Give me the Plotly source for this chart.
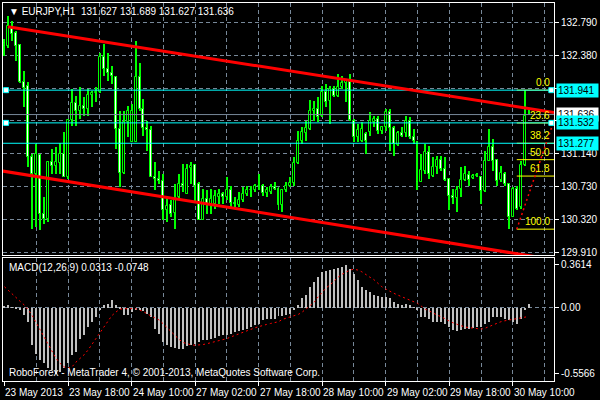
import plotly.graph_objects as go

# ---------------- data ----------------
bars = list(range(133))

opens = [132.536, 132.495, 132.731, 132.661, 132.503, 132.046, 131.996, 131.111, 130.895, 131.136,
         130.388, 130.334, 131.048, 130.990, 131.028, 131.144, 130.853, 131.568, 131.776, 131.684,
         131.747, 131.705, 131.884, 131.900, 131.913, 132.357, 132.204, 132.150, 132.112, 131.456,
         130.903, 131.539, 131.289, 131.289, 132.108, 131.705, 131.468, 131.443, 130.861, 130.832,
         130.803, 130.446, 130.500, 130.408, 130.604, 130.770, 130.645, 130.969, 131.007, 130.770,
         130.321, 130.583, 130.500, 130.521, 130.604, 130.637, 130.604, 130.695, 130.529, 130.500,
         130.570, 130.645, 130.699, 130.687, 130.749, 130.749, 130.654, 130.666, 130.728, 130.708,
         130.500, 130.687, 130.741, 130.778, 131.028, 131.302, 131.402, 131.456, 131.684, 131.705,
         131.622, 131.921, 131.809, 131.954, 131.871, 131.975, 132.025, 132.037, 131.560, 131.360,
         131.310, 131.393, 131.414, 131.539, 131.580, 131.435, 131.477, 131.672, 131.468, 131.260,
         131.402, 131.402, 131.560, 131.352, 131.289, 130.791, 130.936, 131.165, 130.874, 130.978,
         131.069, 130.957, 130.832, 130.612, 130.595, 130.708, 130.820, 130.886, 130.845, 130.870,
         130.861, 130.678, 131.061, 131.235, 131.069, 130.820, 130.895, 130.762, 130.354, 130.708,
         130.479, 131.011, 131.627]
highs = [132.578, 132.869, 132.806, 132.682, 132.515, 132.183, 132.037, 131.144, 131.269, 131.144,
         130.604, 131.061, 131.206, 131.235, 131.277, 131.414, 131.580, 131.954, 131.871, 131.975,
         131.850, 131.954, 131.934, 131.975, 132.412, 132.515, 132.412, 132.245, 132.121, 131.684,
         131.684, 131.747, 131.767, 132.557, 132.287, 131.830, 131.560, 131.497, 131.040, 130.936,
         130.895, 130.604, 130.562, 130.770, 130.895, 131.019, 131.019, 131.040, 131.019, 130.791,
         130.708, 130.687, 130.708, 130.687, 130.708, 130.666, 130.861, 130.749, 130.604, 130.666,
         130.728, 130.749, 130.749, 130.770, 130.895, 130.762, 130.728, 130.770, 130.791, 130.728,
         130.708, 130.791, 130.861, 131.102, 131.435, 131.477, 131.560, 131.817, 131.809, 131.850,
         131.996, 132.017, 131.996, 131.996, 132.141, 132.121, 132.079, 132.141, 131.580, 131.518,
         131.539, 131.414, 131.663, 131.622, 131.622, 131.497, 131.705, 131.705, 131.497, 131.435,
         131.477, 131.622, 131.601, 131.456, 131.310, 131.144, 131.269, 131.248, 131.102, 131.123,
         131.123, 131.102, 130.840, 130.708, 130.749, 130.978, 130.999, 130.936, 130.895, 130.903,
         130.874, 131.186, 131.456, 131.331, 131.082, 130.999, 130.915, 130.770, 130.728, 130.749,
         131.061, 131.941, 131.689]
lows = [132.370, 132.474, 132.557, 132.308, 132.030, 131.726, 130.978, 130.209, 130.230, 130.188,
        130.271, 130.292, 130.895, 130.895, 130.895, 130.853, 130.832, 131.497, 131.497, 131.580,
        131.622, 131.622, 131.726, 131.788, 131.905, 132.121, 132.058, 132.017, 131.206, 130.728,
        130.895, 131.352, 131.289, 131.289, 131.684, 131.373, 131.186, 130.853, 130.687, 130.770,
        130.313, 130.292, 130.354, 130.209, 130.583, 130.666, 130.645, 130.770, 130.541, 130.313,
        130.313, 130.396, 130.396, 130.458, 130.521, 130.521, 130.562, 130.479, 130.479, 130.479,
        130.541, 130.624, 130.604, 130.666, 130.687, 130.624, 130.604, 130.645, 130.687, 130.438,
        130.417, 130.666, 130.730, 130.749, 131.019, 131.269, 131.310, 131.443, 131.560, 131.539,
        131.601, 131.726, 131.518, 131.859, 131.859, 131.954, 131.788, 131.560, 131.289, 131.289,
        131.289, 131.144, 131.373, 131.477, 131.393, 131.393, 131.435, 131.186, 131.123, 131.248,
        131.352, 131.352, 131.331, 131.269, 130.687, 130.791, 130.895, 130.832, 130.861, 130.895,
        130.936, 130.811, 130.438, 130.521, 130.417, 130.604, 130.811, 130.749, 130.832, 130.853,
        130.521, 130.666, 131.061, 130.936, 130.749, 130.791, 130.749, 130.203, 130.350, 130.438,
        130.458, 130.999, 131.627]
closes = [132.495, 132.744, 132.648, 132.495, 132.037, 131.967, 131.102, 130.895, 131.144, 130.388,
          130.334, 131.048, 130.990, 131.048, 131.144, 130.853, 131.568, 131.776, 131.684, 131.747,
          131.705, 131.884, 131.900, 131.913, 132.357, 132.204, 132.150, 132.121, 131.456, 130.903,
          131.539, 131.684, 131.684, 132.108, 131.705, 131.468, 131.443, 130.861, 130.832, 130.803,
          130.446, 130.487, 130.396, 130.583, 130.770, 130.749, 130.957, 130.999, 130.749, 130.321,
          130.583, 130.521, 130.583, 130.616, 130.637, 130.604, 130.695, 130.529, 130.512, 130.570,
          130.645, 130.699, 130.687, 130.749, 130.741, 130.654, 130.687, 130.728, 130.708, 130.500,
          130.695, 130.749, 130.782, 131.028, 131.310, 131.414, 131.468, 131.684, 131.705, 131.609,
          131.913, 131.788, 131.954, 131.871, 131.983, 132.025, 132.058, 131.568, 131.360, 131.443,
          131.456, 131.302, 131.551, 131.580, 131.435, 131.477, 131.672, 131.468, 131.269, 131.402,
          131.373, 131.560, 131.352, 131.310, 130.791, 130.944, 131.165, 130.895, 130.986, 131.069,
          130.957, 130.820, 130.612, 130.595, 130.699, 130.820, 130.895, 130.820, 130.874, 130.886,
          130.678, 131.061, 131.235, 131.061, 130.803, 130.903, 130.762, 130.354, 130.708, 130.458,
          131.011, 131.622, 131.636]

macd_main = [0.015, 0.02, 0.005, -0.01, -0.022, -0.064, -0.12, -0.316, -0.386, -0.442,
             -0.47, -0.512, -0.526, -0.5566, -0.54, -0.512, -0.47, -0.40, -0.372, -0.26,
             -0.232, -0.162, -0.12, -0.078, -0.022, 0.02, 0.034, 0.062, 0.02, -0.008,
             -0.064, -0.064, -0.036, -0.022, -0.022, -0.03, -0.05, -0.078, -0.176, -0.218,
             -0.288, -0.316, -0.33, -0.339, -0.344, -0.35, -0.322, -0.316, -0.302, -0.288,
             -0.274, -0.274, -0.26, -0.255, -0.238, -0.232, -0.227, -0.218, -0.204, -0.199,
             -0.19, -0.176, -0.162, -0.148, -0.134, -0.106, -0.098, -0.092, -0.092, -0.073,
             -0.07, -0.064, -0.05, -0.022, 0.025, 0.081, 0.104, 0.174, 0.216, 0.258,
             0.30, 0.305, 0.314, 0.322, 0.333, 0.342, 0.3614, 0.328, 0.286, 0.23,
             0.174, 0.146, 0.132, 0.104, 0.095, 0.09, 0.09, 0.085, 0.048, 0.034,
             0.025, 0.034, 0.02, 0.003, -0.022, -0.078, -0.078, -0.092, -0.12, -0.12,
             -0.12, -0.134, -0.162, -0.19, -0.199, -0.19, -0.182, -0.176, -0.171, -0.162,
             -0.162, -0.134, -0.12, -0.078, -0.078, -0.078, -0.092, -0.106, -0.12, -0.134,
             -0.092, -0.022, 0.0313]
macd_signal = [0.174, 0.145, 0.115, 0.08, 0.05, 0.02, -0.02, -0.07, -0.13, -0.19,
               -0.26, -0.32, -0.37, -0.43, -0.47, -0.50, -0.512, -0.50, -0.46, -0.43,
               -0.40, -0.36, -0.31, -0.26, -0.21, -0.16, -0.11, -0.07, -0.04, -0.015,
               -0.01, -0.008, -0.008, -0.01, -0.022, -0.035, -0.055, -0.075, -0.09, -0.106,
               -0.14, -0.175, -0.21, -0.24, -0.27, -0.295, -0.305, -0.315, -0.318, -0.316,
               -0.312, -0.305, -0.296, -0.29, -0.283, -0.27, -0.262, -0.248, -0.235, -0.22,
               -0.205, -0.195, -0.183, -0.172, -0.162, -0.15, -0.143, -0.135, -0.128, -0.12,
               -0.10, -0.09, -0.08, -0.072, -0.058, -0.038, -0.012, 0.015, 0.045, 0.09,
               0.13, 0.165, 0.19, 0.225, 0.255, 0.28, 0.30, 0.315, 0.322, 0.315,
               0.30, 0.275, 0.255, 0.235, 0.205, 0.175, 0.155, 0.135, 0.12, 0.105,
               0.09, 0.078, 0.066, 0.05, 0.035, 0.01, -0.015, -0.03, -0.05, -0.065,
               -0.078, -0.1, -0.115, -0.13, -0.145, -0.154, -0.165, -0.168, -0.171, -0.175,
               -0.182, -0.175, -0.16, -0.145, -0.134, -0.12, -0.112, -0.106, -0.103, -0.10,
               -0.088, -0.082, -0.0748]

date_tick_bars = [0, 16, 32, 48, 64, 80, 96, 112, 128]
date_tick_labels = ["23 May 2013", "23 May 18:00", "24 May 10:00", "27 May 02:00", "27 May 18:00",
                    "28 May 10:00", "29 May 02:00", "29 May 18:00", "30 May 10:00"]
grid_bars = list(range(8, 139, 8))

price_grid = [132.790, 132.379, 131.967, 131.556, 131.144, 130.733, 130.321, 129.910]
price_grid_text = ["132.790", "132.380", "", "", "131.140", "130.730", "130.320", "129.910"]

macd_ticks = [0.3614, 0.0, -0.5566]
macd_tick_text = ["0.3614", "0.00", "-0.5566"]

# drawn objects
h_lines = [131.941, 131.532, 131.277]          # cyan horizontal lines
h_line_handles = [131.941, 131.532]            # selected lines (with handles)
bid_price = 131.636
upper_channel = ([0.85, 138.4], [132.735, 131.662])
lower_channel = ([-0.4, 138.4], [130.929, 129.821])
fib_high, fib_low = 131.941, 130.203
fib_start_bar, fib_end_bar = 129, 141
fib_levels = [0.0, 23.6, 38.2, 50.0, 61.8, 100.0]

title_text = "\u25BC EURJPY,H1  131.627 131.689 131.627 131.636"
macd_title = "MACD(12,26,9) 0.0313 -0.0748"
watermark = "RoboForex - MetaTrader 4, \u00A9 2001-2013, MetaQuotes Software Corp."

# ---------------- styling ----------------
FONT = "Liberation Sans"
FS = 10
GRID = "#778899"
LIME = "#00FF00"
CYAN = "#00FFFF"
YELLOW = "#FFFF00"
XR = [-0.375, 138.375]

fig = go.Figure()

# candles: wick (1 px) + body (bull = black, bear = white, lime outline)
fig.add_trace(go.Bar(x=bars, base=lows, y=[h - l for h, l in zip(highs, lows)], width=0.25,
                     marker=dict(color=LIME, line=dict(width=0)), hoverinfo="skip",
                     showlegend=False, xaxis="x", yaxis="y"))
body_base = [min(o, c) for o, c in zip(opens, closes)]
body_len = [abs(c - o) for o, c in zip(opens, closes)]
body_fill = ["#000000" if c >= o else "#FFFFFF" for o, c in zip(opens, closes)]
fig.add_trace(go.Bar(x=bars, base=body_base, y=body_len, width=0.5,
                     marker=dict(color=body_fill, line=dict(color=LIME, width=1)),
                     hoverinfo="skip", showlegend=False, xaxis="x", yaxis="y"))

# fibonacci level lines
for lv in fib_levels:
    p = fib_high - lv / 100.0 * (fib_high - fib_low)
    fig.add_trace(go.Scatter(x=[fib_start_bar, XR[1]], y=[p, p], mode="lines",
                             line=dict(color=YELLOW, width=1), hoverinfo="skip",
                             showlegend=False, xaxis="x", yaxis="y"))

# cyan horizontal lines
for p in h_lines:
    fig.add_trace(go.Scatter(x=XR, y=[p, p], mode="lines", line=dict(color=CYAN, width=1),
                             hoverinfo="skip", showlegend=False, xaxis="x", yaxis="y"))
# bid line
fig.add_trace(go.Scatter(x=XR, y=[bid_price, bid_price], mode="lines",
                         line=dict(color=GRID, width=1), hoverinfo="skip",
                         showlegend=False, xaxis="x", yaxis="y"))

# channel lines
for xs, ys in (upper_channel, lower_channel):
    fig.add_trace(go.Scatter(x=xs, y=ys, mode="lines", line=dict(color="#FF0000", width=3),
                             hoverinfo="skip", showlegend=False, xaxis="x", yaxis="y"))

# fib trend line (dotted)
fig.add_trace(go.Scatter(x=[fib_start_bar, fib_end_bar], y=[fib_low, fib_high], mode="lines",
                         line=dict(color="#FF0000", width=1.5, dash="2px,3px"),
                         hoverinfo="skip", showlegend=False, xaxis="x", yaxis="y"))

# handles of the selected horizontal lines
hx, hy = [], []
for p in h_line_handles:
    hx += [0.4, 137.7]
    hy += [p, p]
fig.add_trace(go.Scatter(x=hx, y=hy, mode="markers",
                         marker=dict(symbol="square", size=5, color="#FFFFFF",
                                     line=dict(color=CYAN, width=1)),
                         hoverinfo="skip", showlegend=False, xaxis="x", yaxis="y", cliponaxis=False))

# MACD
fig.add_trace(go.Bar(x=bars, y=macd_main, width=0.25, marker=dict(color="#C0C0C0", line=dict(width=0)),
                     hoverinfo="skip", showlegend=False, xaxis="x2", yaxis="y2"))
fig.add_trace(go.Scatter(x=bars, y=macd_signal, mode="lines",
                         line=dict(color="#FF0000", width=1, dash="2px,3px"),
                         hoverinfo="skip", showlegend=False, xaxis="x2", yaxis="y2"))

ann = []
ann.append(dict(xref="paper", yref="paper", x=0, y=1, xanchor="left", yanchor="top",
                xshift=4, yshift=-1, text=title_text, showarrow=False,
                font=dict(family=FONT, size=FS, color="#FFFFFF")))
ann.append(dict(xref="paper", yref="paper", x=0, y=0.3259, xanchor="left", yanchor="top",
                xshift=4, yshift=-2, text=macd_title, showarrow=False,
                font=dict(family=FONT, size=FS, color="#FFFFFF")))
ann.append(dict(xref="paper", yref="paper", x=0, y=0, xanchor="left", yanchor="bottom",
                xshift=4, yshift=1, text=watermark, showarrow=False,
                font=dict(family=FONT, size=FS, color="#FFFFFF")))
for b, t in zip(date_tick_bars, date_tick_labels):
    ann.append(dict(xref="x2", yref="paper", x=b, y=0, xanchor="left", yanchor="top",
                    xshift=-1, yshift=-4, text=t, showarrow=False,
                    font=dict(family=FONT, size=FS, color="#FFFFFF")))
for lv in fib_levels:
    p = fib_high - lv / 100.0 * (fib_high - fib_low)
    ann.append(dict(xref="paper", yref="y", x=1, y=p, xanchor="right", yanchor="bottom",
                    xshift=-2, yshift=0, text=f"{lv:.1f}", showarrow=False,
                    font=dict(family=FONT, size=FS, color=YELLOW)))
# price boxes on the axis
boxes = [(131.941, CYAN), (bid_price, "#FFFFFF"), (131.532, CYAN), (131.277, CYAN)]
for p, c in boxes:
    ann.append(dict(xref="paper", yref="y", x=1, y=p, xanchor="left", yanchor="middle",
                    xshift=2, text=f"{p:.3f}", showarrow=False, bgcolor=c, width=39, height=11,
                    align="left", borderpad=1,
                    font=dict(family=FONT, size=FS, color="#000000")))

axis_common = dict(showline=True, mirror=True, linecolor="#FFFFFF", linewidth=1,
                   zeroline=False, fixedrange=True)

fig.update_layout(
    width=600, height=400,
    margin=dict(l=2, r=43, t=2, b=19),
    paper_bgcolor="#000000", plot_bgcolor="#000000",
    barmode="overlay", bargap=0, showlegend=False,
    xaxis=dict(domain=[0, 1], anchor="y", range=XR, tickvals=grid_bars, showticklabels=False,
               ticks="", showgrid=True, gridcolor=GRID, griddash="4px,3px", **axis_common),
    yaxis=dict(domain=[0.3325, 1], anchor="x", range=[129.876, 133.031], side="right",
               tickvals=price_grid, ticktext=price_grid_text, ticks="outside", ticklen=4,
               tickcolor="#FFFFFF", tickfont=dict(family=FONT, size=FS, color="#FFFFFF"),
               showgrid=True, gridcolor=GRID, griddash="4px,3px", **axis_common),
    xaxis2=dict(domain=[0, 1], anchor="y2", range=XR, tickvals=date_tick_bars,
                ticktext=[""] * len(date_tick_bars), ticks="outside", ticklen=4, tickcolor="#FFFFFF",
                showgrid=False,
                minor=dict(tickvals=grid_bars, showgrid=True, gridcolor=GRID, griddash="4px,3px", ticks=""),
                **axis_common),
    yaxis2=dict(domain=[0, 0.3259], anchor="x2", range=[-0.619, 0.418], side="right",
                tickvals=macd_ticks, ticktext=macd_tick_text, ticks="outside", ticklen=4,
                tickcolor="#FFFFFF", tickfont=dict(family=FONT, size=FS, color="#FFFFFF"),
                showgrid=False,
                minor=dict(tickvals=[0], showgrid=True, gridcolor=GRID, griddash="4px,3px", ticks=""),
                **axis_common),
    annotations=ann,
)

fig.write_html("out.html", config={"displayModeBar": False},
               post_script="document.body.style.margin='0';document.body.style.background='#000';")
